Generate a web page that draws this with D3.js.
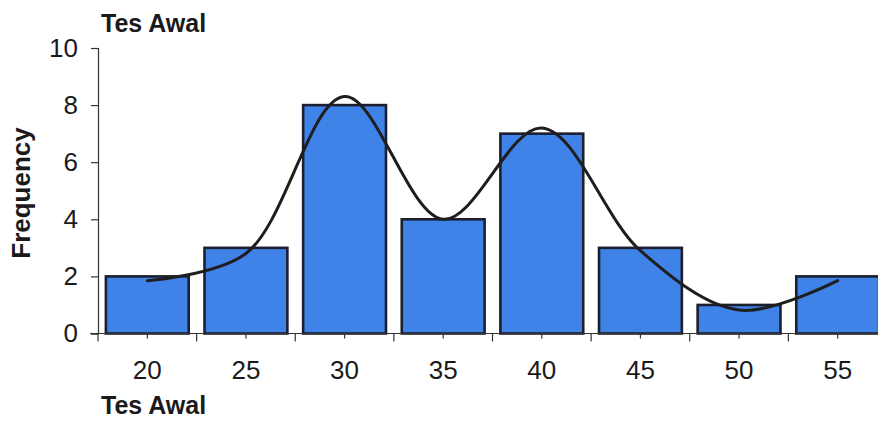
<!DOCTYPE html>
<html>
<head>
<meta charset="utf-8">
<script src="https://cdn.jsdelivr.net/npm/d3@7/dist/d3.min.js"></script>
<style>
  html, body { margin: 0; padding: 0; background: #ffffff; }
  svg { display: block; }
  text { font-family: Arial, "Liberation Sans", sans-serif; fill: #1a1a1a; }
</style>
</head>
<body>
<svg id="chart" width="878" height="434"></svg>
<script>
// Score classes (Tes Awal) and how many students fall in each
const categories = ["20", "25", "30", "35", "40", "45", "50", "55"];
const frequency = [2, 3, 8, 4, 7, 3, 1, 2];
// Smoothed frequency curve drawn over the histogram, one value per class
const smoothCurve = [1.85, 2.8, 8.3, 4.0, 7.2, 2.9, 0.82, 1.85];
const yTicks = [0, 2, 4, 6, 8, 10];

const svg = d3.select("#chart");

const x = d3.scaleBand()
  .domain(categories)
  .range([98, 887])
  .paddingInner(0.16)
  .paddingOuter(0.08);

const y = d3.scaleLinear()
  .domain([0, 10])
  .range([333.5, 48]);

// Bars
svg.append("g")
  .selectAll("rect")
  .data(categories)
  .join("rect")
  .attr("x", d => x(d))
  .attr("y", (d, i) => y(frequency[i]))
  .attr("width", x.bandwidth())
  .attr("height", (d, i) => y(0) - y(frequency[i]))
  .attr("fill", "#3f82e8")
  .attr("stroke", "#1b1f2e")
  .attr("stroke-width", 2.6);

// Y axis
const yAxis = svg.append("g")
  .attr("transform", "translate(98,0)")
  .call(d3.axisLeft(y).tickValues(yTicks).tickSize(7).tickPadding(13).tickFormat(d3.format("d")));
yAxis.select(".domain").attr("stroke", "#333").attr("stroke-width", 1.2);
yAxis.selectAll(".tick line").attr("stroke", "#333").attr("stroke-width", 1.2);
yAxis.selectAll("text").attr("font-size", 26).attr("fill", "#1a1a1a").attr("font-family", "Arial, 'Liberation Sans', sans-serif");

// X axis line
svg.append("line")
  .attr("x1", 90).attr("x2", 878)
  .attr("y1", y(0)).attr("y2", y(0))
  .attr("stroke", "#333").attr("stroke-width", 1.2);

// Boundary ticks between classes
const edges = categories.map(c => x(c) - x.step() * x.paddingInner() / 2);
svg.append("g")
  .selectAll("line")
  .data(edges)
  .join("line")
  .attr("x1", d => d).attr("x2", d => d)
  .attr("y1", y(0)).attr("y2", y(0) + 8)
  .attr("stroke", "#333").attr("stroke-width", 1.2);

// Centre ticks and class labels
const xAxis = svg.append("g")
  .attr("transform", `translate(0,${y(0)})`)
  .call(d3.axisBottom(x).tickSize(5).tickPadding(22));
xAxis.select(".domain").remove();
xAxis.selectAll(".tick line").attr("stroke", "#333").attr("stroke-width", 1.2);
xAxis.selectAll("text").attr("font-size", 26).attr("fill", "#1a1a1a").attr("font-family", "Arial, 'Liberation Sans', sans-serif");

// Smoothed curve
const line = d3.line()
  .x((d, i) => x(categories[i]) + x.bandwidth() / 2)
  .y(d => y(d))
  .curve(d3.curveCatmullRom.alpha(0.5));

svg.append("path")
  .datum(smoothCurve)
  .attr("d", line)
  .attr("fill", "none")
  .attr("stroke", "#1e1e1e")
  .attr("stroke-width", 3)
  .attr("stroke-linecap", "round");

// Titles
svg.append("text")
  .attr("x", 101).attr("y", 32)
  .attr("font-size", 25).attr("font-weight", "bold")
  .text("Tes Awal");

svg.append("text")
  .attr("x", 101).attr("y", 414)
  .attr("font-size", 25).attr("font-weight", "bold")
  .text("Tes Awal");

svg.append("text")
  .attr("transform", "translate(30,193) rotate(-90)")
  .attr("text-anchor", "middle")
  .attr("font-size", 26).attr("font-weight", "bold")
  .text("Frequency");
</script>
</body>
</html>
